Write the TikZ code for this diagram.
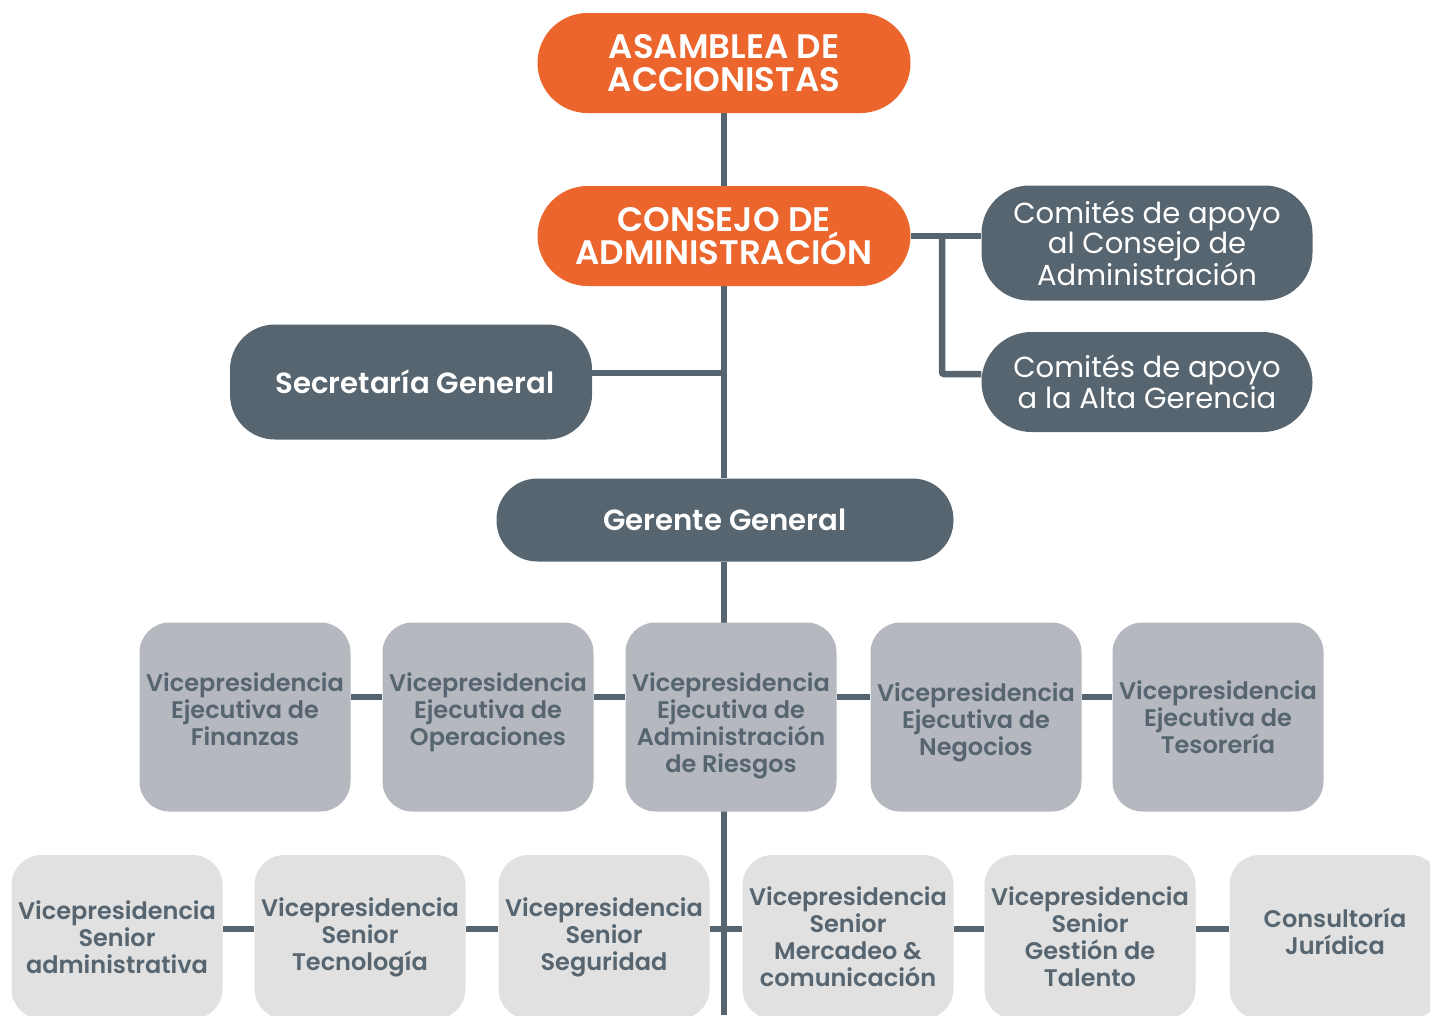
\documentclass[tikz,border=0pt]{standalone}
\usepackage{fontspec}
\setmainfont{Poppins}[BoldFont={Poppins SemiBold}]
\usepackage{tikz}
\usetikzlibrary{backgrounds,calc}
\definecolor{naranja}{HTML}{EB652D}
\definecolor{pizarra}{HTML}{56656F}
\definecolor{grismedio}{HTML}{B5B8BF}
\definecolor{grisclaro}{HTML}{E1E1E1}

\begin{document}
\begin{tikzpicture}[x=1pt,y=-1pt]
  \tikzstyle{organo} = [fill=naranja,text=white,font=\bfseries\fontsize{34}{33}\selectfont,align=center,minimum width=373pt,minimum height=100pt,rounded corners=50pt,inner sep=0pt]
  \tikzstyle{comite} = [fill=pizarra,text=white,font=\fontsize{29}{29.5}\selectfont,align=center,minimum width=331pt,rounded corners=48pt,inner sep=0pt]
  \tikzstyle{gerencia} = [fill=pizarra,text=white,font=\bfseries\fontsize{29.2}{30}\selectfont,inner sep=0pt]
  \tikzstyle{vpejec} = [fill=grismedio,text=pizarra,font=\bfseries\fontsize{24}{27}\selectfont,align=center,minimum width=211pt,minimum height=189pt,rounded corners=30pt,inner sep=0pt]
  \tikzstyle{vpsenior} = [vpejec,fill=grisclaro,minimum height=164pt]
  \tikzstyle{linea} = [draw=pizarra,line width=6.5pt]
  %
  \useasboundingbox (0,0) rectangle (1430,1015);
  \clip (0,0) rectangle (1430,1015);
  % Top of the chart.
  \node[organo] (asamblea) at (724,63) {ASAMBLEA DE\\ACCIONISTAS};
  \node[organo] (consejo) at (724,236) {CONSEJO DE\\ADMINISTRACIÓN};
  \node[comite,minimum height=115pt] (comiteJD) at (1147,243) {Comités de apoyo\\al Consejo de\\Administración};
  \node[comite,minimum height=100pt,rounded corners=50pt] (comiteAG) at (1147,382) {Comités de apoyo\\a la Alta Gerencia};
  \node[gerencia,minimum width=362pt,minimum height=115pt,rounded corners=45pt] (secretaria) at (411,382) {\hspace*{8pt}Secretaría General};
  \node[gerencia,minimum width=457pt,minimum height=83pt,rounded corners=41pt] (gerente) at (725,520) {Gerente General};
  % Executive vice presidencies.
  \node[vpejec] (finanzas) at (245,717) {Vicepresidencia\\Ejecutiva de\\Finanzas\\[-11pt]\mbox{}};
  \node[vpejec] (operaciones) at (488,717) {Vicepresidencia\\Ejecutiva de\\Operaciones\\[-11pt]\mbox{}};
  \node[vpejec] (riesgos) at (731,717) {\rule{0pt}{37pt}Vicepresidencia\\Ejecutiva de\\Administración\\de Riesgos};
  \node[vpejec] (negocios) at (976,717) {\rule{0pt}{29pt}Vicepresidencia\\Ejecutiva de\\Negocios};
  \node[vpejec] (tesoreria) at (1218,717) {Vicepresidencia\\Ejecutiva de\\Tesorería};
  % Senior vice presidencies.
  \node[vpsenior] (administrativa) at (117,937) {Vicepresidencia\\Senior\\administrativa};
  \node[vpsenior] (tecnologia) at (360,937) {Vicepresidencia\\Senior\\Tecnología};
  \node[vpsenior] (seguridad) at (604,937) {Vicepresidencia\\Senior\\Seguridad};
  \node[vpsenior] (mercadeo) at (848,937) {Vicepresidencia\\Senior\\Mercadeo \&\\comunicación};
  \node[vpsenior] (talento) at (1090,937) {Vicepresidencia\\Senior\\Gestión de\\Talento};
  \node[vpsenior] (juridica) at (1335,937) {Consultoría\\Jurídica\\[-15pt]\mbox{}};
  \begin{pgfonlayer}{background}
      % Trunk and branches.
      \coordinate (fin) at (724,1015);
      \coordinate (rama) at (942,236);
      \draw[linea] (asamblea.south) -- (consejo.north) (consejo.south) -- (consejo.south |- gerente.north) (consejo.south |- gerente.south) -- (fin);
      \draw[linea] ([yshift=9pt]secretaria.east) -- ([yshift=9pt]secretaria.east -| consejo.south);
      \draw[linea] (consejo.east) -- (consejo.east -| comiteJD.west);
      \draw[linea,rounded corners=2pt] (rama) |- ([yshift=8pt]comiteAG.west);
      % Rows.
      \draw[linea] ([yshift=20pt]finanzas.east) -- ([yshift=20pt]operaciones.west) ([yshift=20pt]operaciones.east) -- ([yshift=20pt]riesgos.west) ([yshift=20pt]riesgos.east) -- ([yshift=20pt]negocios.west) ([yshift=20pt]negocios.east) -- ([yshift=20pt]tesoreria.west);
      \draw[linea] ([yshift=8pt]administrativa.east) -- ([yshift=8pt]tecnologia.west) ([yshift=8pt]tecnologia.east) -- ([yshift=8pt]seguridad.west) ([yshift=8pt]seguridad.east) -- ([yshift=8pt]mercadeo.west) ([yshift=8pt]mercadeo.east) -- ([yshift=8pt]talento.west) ([yshift=8pt]talento.east) -- ([yshift=8pt]juridica.west);
  \end{pgfonlayer}
\end{tikzpicture}
\end{document}
